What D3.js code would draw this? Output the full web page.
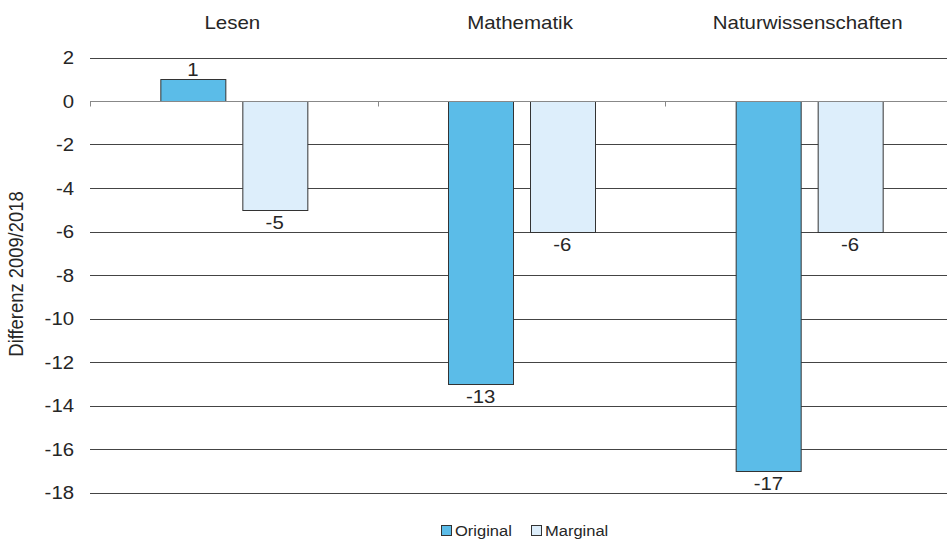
<!DOCTYPE html>
<html><head><meta charset="utf-8">
<script src="https://cdn.jsdelivr.net/npm/d3@7"></script>
<style>body{margin:0;background:#fff}svg{display:block}text{font-family:"Liberation Sans",Arial,sans-serif;fill:#262626}</style>
</head><body><svg id="c" width="947" height="540"></svg>
<script>
const categories = ["Lesen", "Mathematik", "Naturwissenschaften"];
const seriesNames = ["Original", "Marginal"];
const original = [1, -13, -17];
const marginal = [-5, -6, -6];
const yTicks = [2, 0, -2, -4, -6, -8, -10, -12, -14, -16, -18];
const colors = ["#5bbce8", "#ddeefb"];

const SX = 1.1; // horizontal text stretch seen in reference
const svg = d3.select("#c");
const mLeft = 90, mRight = 953, mTop = 57.5, mBottom = 492.5;
const y = d3.scaleLinear().domain([2, -18]).range([mTop, mBottom]);
const x0 = d3.scaleBand().domain(categories).range([mLeft, mRight]).padding(0);
const x1 = d3.scaleBand().domain(seriesNames).range([0, 147]).paddingInner(0.2);

function txt(sel, x, yy) { return sel.attr("transform", `translate(${x},${yy}) scale(${SX},1)`); }

// gridlines
svg.append("g").selectAll("line").data(yTicks.filter(d => d !== 0)).join("line")
  .attr("x1", mLeft).attr("x2", 947).attr("y1", d => Math.round(y(d)) + 0.5).attr("y2", d => Math.round(y(d)) + 0.5)
  .attr("stroke", "#444").attr("stroke-width", 1);
// y tick labels
svg.append("g").selectAll("text").data(yTicks).join("text")
  .attr("transform", d => `translate(74,${y(d) + 6.7}) scale(${SX},1)`)
  .attr("text-anchor", "end").attr("font-size", 18.5).text(d => d);

// bars
const data = categories.map((c, i) => ({c, vals: [original[i], marginal[i]]}));
const g = svg.append("g").selectAll("g").data(data).join("g")
  .attr("transform", d => `translate(${x0(d.c) + x0.bandwidth() / 2 - 73.5},0)`);
g.selectAll("rect").data(d => d.vals.map((v, k) => ({v, k}))).join("rect")
  .attr("x", d => Math.round(x1(seriesNames[d.k])) + 0.5)
  .attr("y", d => Math.round(Math.min(y(d.v), y(0))) + 0.5)
  .attr("width", Math.round(x1.bandwidth()))
  .attr("height", d => Math.round(Math.abs(y(d.v) - y(0))))
  .attr("fill", d => colors[d.k]).attr("stroke", "#333").attr("stroke-width", 1);
g.selectAll("text").data(d => d.vals.map((v, k) => ({v, k}))).join("text")
  .attr("transform", d => `translate(${x1(seriesNames[d.k]) + x1.bandwidth() / 2},${d.v >= 0 ? y(d.v) - 3 : y(d.v) + 19}) scale(${SX},1)`)
  .attr("text-anchor", "middle").attr("font-size", 18.5).text(d => d.v);

// zero axis
const y0 = Math.round(y(0)) + 0.5;
svg.append("line").attr("x1", mLeft).attr("x2", 947).attr("y1", y0).attr("y2", y0).attr("stroke", "#888");
svg.append("g").selectAll("line").data([mLeft, ...categories.slice(1).map(c => x0(c))]).join("line")
  .attr("x1", d => Math.round(d) + 0.5).attr("x2", d => Math.round(d) + 0.5)
  .attr("y1", y0).attr("y2", y0 + 5).attr("stroke", "#888");

// category labels at top
svg.append("g").selectAll("text").data(categories).join("text")
  .attr("transform", d => `translate(${x0(d) + x0.bandwidth() / 2 - 1.5},28.5) scale(${SX},1)`)
  .attr("text-anchor", "middle").attr("font-size", 18.6).text(d => d);

// y-axis title
svg.append("text").attr("transform", `translate(23,274) scale(${SX},1) rotate(-90)`).attr("text-anchor", "middle")
  .attr("font-size", 18.4).text("Differenz 2009/2018");

// legend
const items = [{n: "Original", x: 441}, {n: "Marginal", x: 531}];
items.forEach((it, k) => {
  svg.append("rect").attr("x", it.x + 0.5).attr("y", 525.5).attr("width", 10).attr("height", 10)
    .attr("fill", colors[k]).attr("stroke", "#333");
  txt(svg.append("text"), it.x + 14, 535.5).attr("font-size", 15).text(it.n);
});
</script></body></html>
